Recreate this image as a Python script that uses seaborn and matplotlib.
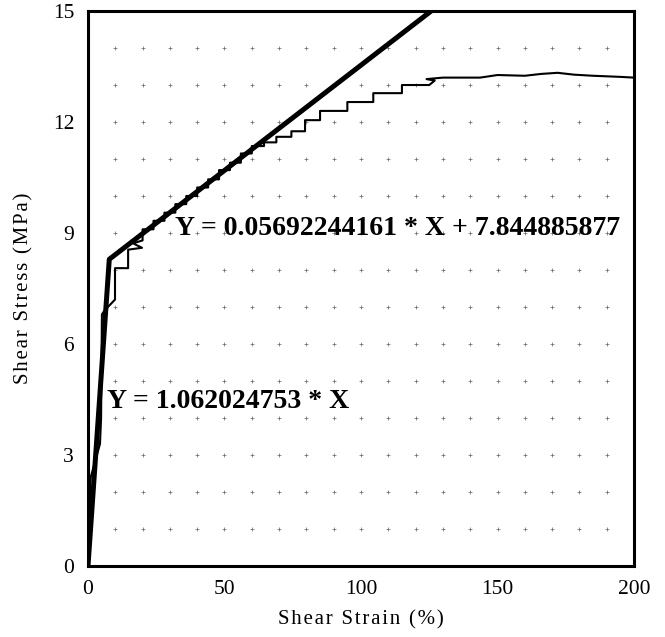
import matplotlib
matplotlib.use("Agg")
import matplotlib.pyplot as plt
import seaborn as sns
import numpy as np
import pandas as pd

# Experimental curve (shear strain %, shear stress MPa)
strain = [0, 0.6, 0.8, 1.0, 4.4, 4.8, 5.1, 6.0, 9.9, 9.9, 14.7, 14.7, 19.8, 16.5, 20.0,
          20.0, 24, 24, 28, 28, 32, 32, 36, 36, 40, 40, 44, 44, 48, 48, 52, 52,
          56, 56, 60, 60, 64.5, 64.5, 69, 69, 74.5, 74.5, 79.5, 79.5, 85, 85,
          95, 95, 104.5, 104.5, 115, 115, 125, 127, 124, 130, 143.6, 150, 160,
          166, 172, 178, 185, 195, 200]
stress = [0, 0.3, 2.2, 2.4, 3.3, 4.0, 6.8, 6.9, 7.2, 8.05, 8.05, 8.55, 8.6, 8.72, 8.8,
          9.1, 9.1, 9.33, 9.33, 9.55, 9.55, 9.78, 9.78, 10.0, 10.0, 10.23, 10.23, 10.45, 10.45,
          10.7, 10.7, 10.9, 10.9, 11.15, 11.15, 11.35, 11.35, 11.45, 11.45, 11.6, 11.6,
          11.75, 11.75, 12.05, 12.05, 12.3, 12.3, 12.54, 12.54, 12.78, 12.78, 13.0, 13.0,
          13.12, 13.16, 13.2, 13.2, 13.27, 13.25, 13.3, 13.33, 13.28, 13.25, 13.22, 13.2]

# Bilinear fit
fit_x = [0, 7.805, 125.7]
fit_y = [0, 8.29, 15.0]

x_ticks = [0, 50, 100, 150, 200]
y_ticks = [0, 3, 6, 9, 12, 15]
eq1 = "Y = 0.05692244161 * X + 7.844885877"
eq2 = "Y = 1.062024753 * X"

sns.set_style("white")
plt.rcParams['font.family'] = ['Liberation Serif', 'DejaVu Serif']
plt.rcParams['text.color'] = 'black'
plt.rcParams['axes.labelcolor'] = 'black'
plt.rcParams['xtick.color'] = 'black'
plt.rcParams['ytick.color'] = 'black'

fig = plt.figure(figsize=(6.65, 6.37), dpi=100)
ax = fig.add_axes([0.1323, 0.1115, 0.8211, 0.8712])

# dotted grid
gx, gy = np.meshgrid(np.arange(10, 200, 10), np.arange(1, 15, 1))
ax.scatter(gx.ravel(), gy.ravel(), marker='+', s=5, linewidths=0.5, color='#666666', zorder=1)

df_c = pd.DataFrame({"x": strain, "y": stress})
df_f = pd.DataFrame({"x": fit_x, "y": fit_y})
sns.lineplot(data=df_c, x="x", y="y", sort=False, estimator=None, color='black', lw=1.5, ax=ax, zorder=3)
sns.lineplot(data=df_f, x="x", y="y", sort=False, estimator=None, color='black', lw=3.6, ax=ax, zorder=4)

ax.set_xlim(0, 200)
ax.set_ylim(0, 15)
ax.set_xticks(x_ticks)
ax.set_yticks(y_ticks)
ax.tick_params(axis='both', length=0, labelsize=15.5, pad=10, colors='black')

def spaced(s):
    return "\u200a".join(s)

ax.set_xlabel(spaced("Shear Strain (%)"), fontsize=15, labelpad=8, color='black')
ax.set_ylabel(spaced("Shear Stress (MPa)"), fontsize=15, labelpad=14, color='black')

for sp in ax.spines.values():
    sp.set_linewidth(2.2)
    sp.set_color('black')

ax.text(31.9, 9.13, eq1, fontsize=20, fontweight='bold', va='center', ha='left', color='black', zorder=5)
ax.text(7.0, 4.45, eq2, fontsize=20, fontweight='bold', va='center', ha='left', color='black', zorder=5)

fig.savefig("out.png", dpi=100)
